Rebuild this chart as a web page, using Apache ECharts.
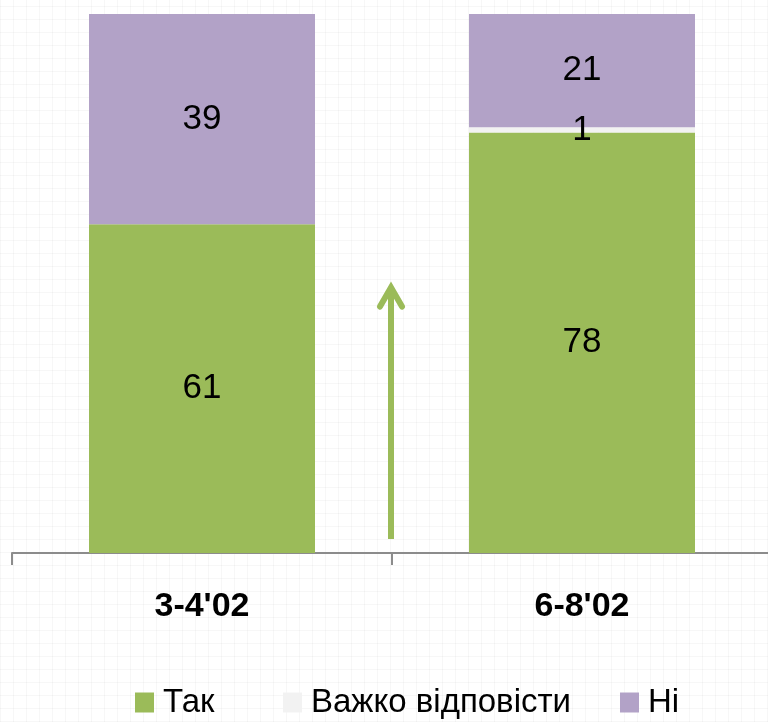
<!DOCTYPE html>
<html>
<head>
<meta charset="utf-8">
<script src="https://cdn.jsdelivr.net/npm/echarts@6/dist/echarts.min.js"></script>
<style>
  html, body { margin: 0; padding: 0; }
  body {
    width: 768px; height: 722px; background-color: #ffffff;
    background-image:
      repeating-linear-gradient(0deg, rgba(0,0,0,0.03) 0 1px, transparent 1px 13px),
      repeating-linear-gradient(90deg, rgba(0,0,0,0.03) 0 1px, transparent 1px 13px);
  }
  #chart { width: 768px; height: 722px; }
</style>
</head>
<body>
<div id="chart"></div>
<script>
// Survey waves
const categories = ["3-4'02", "6-8'02"];
// Shares of answers, %
const yesValues = [61, 78];
const hardValues = [0, 1];
const noValues = [39, 21];
const seriesNames = ['Так', 'Важко відповісти', 'Ні'];

const FONT = '"Liberation Sans Narrow", "Arial Narrow", "Liberation Sans", Arial, sans-serif';
const GREEN = '#9BBB59';
const LIGHT = '#F2F2F2';
const PURPLE = '#B2A2C7';

const chart = echarts.init(document.getElementById('chart'), null, { renderer: 'canvas' });

const labelStyle = {
  show: true,
  position: 'inside',
  color: '#000',
  fontFamily: FONT,
  fontSize: 35,
  formatter: p => (p.value > 0 ? String(p.value) : '')
};

function legendAt(name, left) {
  return {
    data: [name],
    left: left,
    top: 686,
    padding: 0,
    itemWidth: 19,
    itemHeight: 20,
    icon: 'rect',
    selectedMode: false,
    textStyle: { fontFamily: FONT, fontSize: 33, color: '#000', padding: [0, 0, 0, 4] }
  };
}

chart.setOption({
  animation: false,
  backgroundColor: 'transparent',
  grid: { left: 12, right: -4, top: 14, bottom: 169, outerBoundsMode: 'none', containLabel: false },
  legend: [
    legendAt(seriesNames[0], 135),
    legendAt(seriesNames[1], 283),
    legendAt(seriesNames[2], 620)
  ],
  xAxis: {
    type: 'category',
    data: categories,
    axisLine: { show: true, lineStyle: { color: '#8C8C8C', width: 2 } },
    axisTick: { show: true, length: 12, lineStyle: { color: '#8C8C8C', width: 2 } },
    axisLabel: { color: '#000', fontFamily: FONT, fontSize: 34, fontWeight: 'bold', margin: 37 }
  },
  yAxis: {
    type: 'value', min: 0, max: 100,
    show: false,
    splitLine: { show: false }
  },
  series: [
    { name: seriesNames[0], type: 'bar', stack: 'all', barWidth: 226, data: yesValues,
      itemStyle: { color: GREEN }, label: labelStyle },
    { name: seriesNames[1], type: 'bar', stack: 'all', barWidth: 226, data: hardValues,
      itemStyle: { color: LIGHT }, label: labelStyle },
    { name: seriesNames[2], type: 'bar', stack: 'all', barWidth: 226, data: noValues,
      itemStyle: { color: PURPLE }, label: labelStyle }
  ]
});

// Upward arrow between the two waves, placed through the axis scales
const p0 = chart.convertToPixel({ xAxisIndex: 0, yAxisIndex: 0 }, [0, 2.6]);
const p1 = chart.convertToPixel({ xAxisIndex: 0, yAxisIndex: 0 }, [1, 49.8]);
const ax = Math.round((p0[0] + p1[0]) / 2) - 1;
const yBottom = p0[1];
const yTop = p1[1];
chart.setOption({
  graphic: [
    { type: 'line', shape: { x1: ax, y1: yBottom, x2: ax, y2: yTop + 3 },
      style: { stroke: GREEN, lineWidth: 6 } },
    { type: 'polyline', shape: { points: [[ax - 11, yTop + 22], [ax, yTop + 3], [ax + 11, yTop + 22]] },
      style: { stroke: GREEN, lineWidth: 6, fill: 'none', lineCap: 'round', lineJoin: 'miter' } }
  ]
});
</script>
</body>
</html>
